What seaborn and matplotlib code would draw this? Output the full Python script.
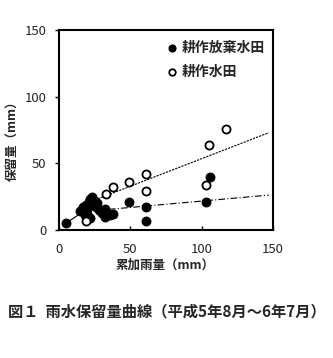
import matplotlib
matplotlib.use("Agg")
import matplotlib.pyplot as plt
import seaborn as sns
import pandas as pd

sns.set_theme(style="white")
plt.rcParams['font.family'] = ['Noto Sans CJK JP', 'DejaVu Sans']

# 耕作放棄水田 (filled)
aband_x = [5, 15, 17, 18, 19, 20, 20, 21, 22, 22, 23, 24, 25, 26, 27, 28, 30, 32, 32, 36, 38, 49, 61, 61, 103, 106]
aband_y = [5, 14, 17, 11, 19, 12, 16, 21, 23, 9, 25, 19, 22, 17, 20, 15, 13, 16, 10, 11, 12, 21, 17, 7, 21, 40]
# 耕作水田 (open)
cult_x = [19, 33, 38, 49, 61, 61, 103, 105, 117]
cult_y = [7, 27, 32, 36, 42, 29, 34, 64, 76]

# trend lines
cult_line_x = [27, 147]
cult_line_y = [23.3, 73.0]
aband_line1_x = [4, 16]
aband_line1_y = [4.5, 13.0]
aband_line2_x = [35, 147]
aband_line2_y = [15.5, 26.2]

ticks = [0, 50, 100, 150]
labels = ["耕作放棄水田", "耕作水田"]

df = pd.DataFrame({
    "x": aband_x + cult_x,
    "y": aband_y + cult_y,
    "g": [labels[0]] * len(aband_x) + [labels[1]] * len(cult_x),
})

fig = plt.figure(figsize=(3.33, 3.58), dpi=100)
ax = fig.add_axes([0.177, 0.3575, 0.643, 0.5585])

ax.plot(cult_line_x, cult_line_y, color="black", lw=0.8, linestyle=(0, (2, 1)))
ax.plot(aband_line1_x, aband_line1_y, color="black", lw=0.8)
ax.plot(aband_line2_x, aband_line2_y, color="black", lw=0.8, linestyle=(0, (6, 2, 1, 2)))

sns.scatterplot(data=df[df.g == labels[0]], x="x", y="y", ax=ax, color="black",
                s=40, edgecolor="black", linewidth=0.8, label=labels[0], zorder=3)
sns.scatterplot(data=df[df.g == labels[1]], x="x", y="y", ax=ax, facecolor="white",
                s=34, edgecolor="black", linewidth=1.3, label=labels[1], zorder=4)

ax.set_xlim(0, 150)
ax.set_ylim(0, 150)
ax.set_xticks(ticks)
ax.set_yticks(ticks)
ax.tick_params(axis="both", labelsize=9.5, length=3, width=1, color="black")
ax.tick_params(axis="x", direction="in", pad=9)
ax.tick_params(axis="y", direction="out", length=3, pad=6)
ax.tick_params(bottom=True, left=True)
for sp in ax.spines.values():
    sp.set_color("black")
    sp.set_linewidth(1.5)
ax.set_xlabel("")
ax.set_ylabel("")

leg = ax.legend(loc="upper right", bbox_to_anchor=(1.02, 1.01), frameon=False,
                handletextpad=0.2, handlelength=1.0, labelspacing=0.75,
                markerscale=0.8, prop={"weight": "bold", "size": 10})

fig.text(165 / 333, 1 - 265 / 358, "累加雨量（mm）", ha="center", va="center",
         fontsize=9, fontweight="bold")
fig.text(13 / 333, 1 - 138 / 358, "保留量（mm）", ha="center", va="center",
         rotation=90, fontsize=9, fontweight="bold")
fig.text(8 / 333, 1 - 311 / 358, "図１  雨水保留量曲線（平成5年8月〜6年7月）",
         ha="left", va="center", fontsize=11, fontweight="bold")

fig.savefig("out.png", dpi=100)
